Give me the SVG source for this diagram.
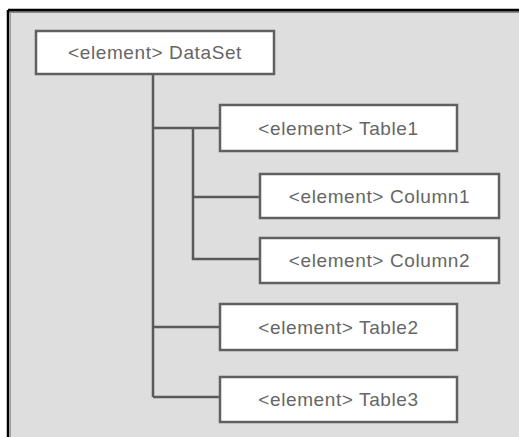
<svg xmlns="http://www.w3.org/2000/svg" width="519" height="437" viewBox="0 0 519 437">
<style>
.box{fill:#ffffff;stroke:#606060;stroke-width:2.5}
.lbl{font-family:"Liberation Sans",Arial,sans-serif;font-size:19px;letter-spacing:0.6px;fill:#666666;text-anchor:middle}
.conn{stroke:#5a5a5a;stroke-width:2.5;fill:none}
</style>
<rect x="0" y="0" width="519" height="437" fill="#ffffff"/>
<rect x="8" y="10" width="511" height="427" fill="#dedede"/>
<line x1="8" y1="12" x2="519" y2="12" stroke="#8a8a8a" stroke-width="2"/>
<line x1="8" y1="10" x2="519" y2="10" stroke="#000000" stroke-width="2.5"/>
<line x1="8" y1="10" x2="8" y2="437" stroke="#000000" stroke-width="2.5"/>
<line x1="10.5" y1="12" x2="10.5" y2="437" stroke="#9a9a9a" stroke-width="1"/>
<g id="connectors">
<path class="conn" d="M153 74V397M153 128H220M193 128V259H260M193 197H260M153 327H220M153 397H220"/>
</g>
<g id="dataset"><rect class="box" x="36" y="31" width="238" height="43"/><text class="lbl" x="155" y="59">&lt;element&gt; DataSet</text></g>
<g id="table1"><rect class="box" x="220" y="105" width="237" height="46"/><text class="lbl" x="338.5" y="135">&lt;element&gt; Table1</text></g>
<g id="column1"><rect class="box" x="260" y="174" width="239" height="44"/><text class="lbl" x="379.5" y="203">&lt;element&gt; Column1</text></g>
<g id="column2"><rect class="box" x="260" y="238" width="239" height="45"/><text class="lbl" x="379.5" y="267">&lt;element&gt; Column2</text></g>
<g id="table2"><rect class="box" x="220" y="304" width="237" height="46"/><text class="lbl" x="338.5" y="334">&lt;element&gt; Table2</text></g>
<g id="table3"><rect class="box" x="220" y="377" width="237" height="45"/><text class="lbl" x="338.5" y="406">&lt;element&gt; Table3</text></g>
</svg>
